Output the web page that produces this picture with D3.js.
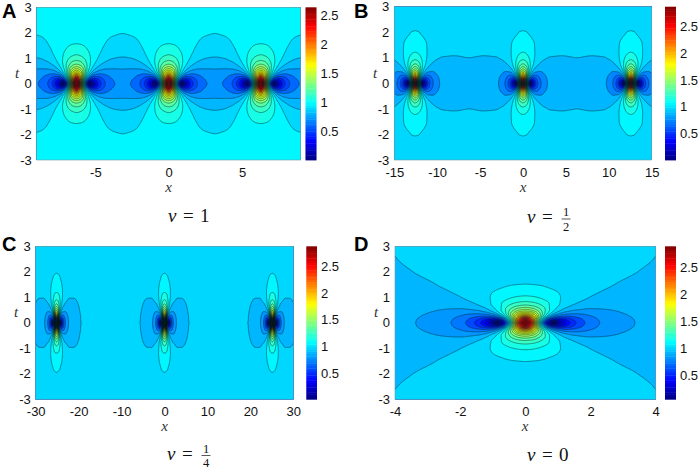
<!DOCTYPE html>
<html><head><meta charset="utf-8">
<script src="https://cdn.jsdelivr.net/npm/d3@7"></script>
<style>
html,body{margin:0;padding:0;background:#fff}
svg{display:block}
text{fill:#111}
</style></head><body>
<svg id="c" width="699" height="470"></svg>
<script>
// Knots of the estimated quadrant readings (folded by the mirror symmetry of the picture)
const yTicks = [-3,-2,-1,0,1,2,3];
const cbTicks = [.5,1,1.5,2,2.5];

const xKnotsA = [0,.25,.5,.75,.95,1.2,1.6,2,2.5,3.1416];
const tKnotsA = [0,.125,.25,.375,.5,.75,.875,1,1.25,1.5,1.75,2,3];
const fieldA = [
 [2.73,2.1,1.08,.366,.01,.27,.512,.632,.705,.732],
 [2.55,2.05,1.18,.577,.364,.386,.543,.645,.711,.736],
 [2.19,1.89,1.32,.861,.66,.579,.617,.678,.727,.747],
 [1.855,1.70,1.35,1.03,.856,.741,.703,.723,.751,.765],
 [1.62,1.535,1.33,1.11,.973,.859,.784,.772,.78,.786],
 [1.334,1.304,1.228,1.13,1.054,.975,.894,.855,.837,.833],
 [1.254,1.236,1.186,1.118,1.062,1.0,.928,.887,.864,.856],
 [1.196,1.18,1.15,1.103,1.06,1.014,.953,.913,.888,.879],
 [1.117,1.111,1.094,1.07,1.048,1.02,.979,.948,.925,.915],
 [1.07,1.067,1.06,1.046,1.033,1.016,.989,.968,.949,.941],
 [1.043,1.042,1.038,1.029,1.02,1.011,.994,.979,.966,.96],
 [1.03,1.03,1.027,1.02,1.015,1.01,.999,.989,.98,.975],
 [1.005,1.005,1.005,1.004,1.003,1.002,1,.998,.996,.995]];
const xTicksA = [-5,0,5];

const xKnotsB = [0,.25,.5,.7,.88,1.1,1.5,2,2.5,3.2,4.5,6.283];
const tKnotsB = [0,.125,.25,.375,.5,.75,.875,1,1.25,1.5,1.75,2,3];
const fieldB = [
 [2.9,2.13,1.02,.374,0,.28,.57,.738,.82,.878,.922,.936],
 [2.67,2.07,1.18,.66,.447,.445,.61,.75,.825,.881,.922,.936],
 [2.21,1.91,1.36,.985,.785,.688,.703,.782,.838,.886,.924,.937],
 [1.857,1.706,1.40,1.152,.986,.87,.804,.823,.858,.893,.927,.939],
 [1.614,1.536,1.364,1.207,1.085,.982,.887,.867,.88,.903,.93,.94],
 [1.34,1.313,1.255,1.19,1.13,1.07,.989,.939,.925,.926,.938,.945],
 [1.26,1.245,1.21,1.165,1.125,1.08,1.012,.963,.943,.936,.942,.947],
 [1.204,1.194,1.169,1.14,1.113,1.08,1.026,.98,.958,.947,.947,.95],
 [1.133,1.128,1.116,1.102,1.088,1.069,1.035,1.001,.979,.963,.956,.956],
 [1.091,1.09,1.085,1.079,1.067,1.06,1.035,1.011,.993,.976,.964,.962],
 [1.064,1.063,1.06,1.055,1.05,1.044,1.03,1.013,.999,.984,.972,.967],
 [1.048,1.047,1.045,1.04,1.037,1.033,1.025,1.012,1,.99,.978,.973],
 [1.008,1.008,1.007,1.007,1.006,1.006,1.004,1,.998,.996,.992,.99]];
const xTicksB = [-15,-10,-5,0,5,10,15];

const xKnotsC = [0,.25,.5,.7,.87,1.1,1.5,2,3,4,6,9,12.566];
const tKnotsC = [0,.125,.25,.375,.5,.75,1,1.25,1.5,1.75,2,3];
const fieldC = [
 [2.986,2.19,1.0,.359,0,.307,.59,.758,.886,.933,.966,.981,.984],
 [2.71,2.13,1.18,.668,.467,.467,.634,.771,.888,.933,.967,.981,.984],
 [2.23,1.94,1.37,1.005,.814,.709,.726,.802,.895,.936,.967,.981,.984],
 [1.86,1.72,1.41,1.17,1.015,.89,.826,.845,.905,.939,.968,.981,.984],
 [1.61,1.54,1.37,1.22,1.11,1.0,.908,.888,.918,.943,.969,.981,.984],
 [1.344,1.32,1.26,1.20,1.15,1.085,1.005,.958,.944,.954,.971,.982,.985],
 [1.21,1.205,1.19,1.153,1.127,1.093,1.041,.998,.966,.965,.974,.984,.985],
 [1.141,1.139,1.13,1.115,1.1,1.08,1.05,1.017,.984,.975,.978,.985,.987],
 [1.099,1.097,1.093,1.087,1.077,1.065,1.047,1.024,.995,.984,.981,.987,.988],
 [1.072,1.071,1.069,1.065,1.059,1.052,1.041,1.026,1.001,.99,.983,.987,.988],
 [1.056,1.055,1.053,1.05,1.048,1.042,1.034,1.024,1.006,.995,.987,.989,.99],
 [1.012,1.012,1.012,1.011,1.011,1.01,1.008,1.006,1.002,.998,.995,.993,.993]];
const xTicksC = [-30,-20,-10,0,10,20,30];

const xKnotsD = [0,.2,.4,.6,.75,.87,1,1.25,1.5,2,2.5,3,4];
const tKnotsD = [0,.125,.25,.375,.5,.75,1,1.5,2,2.5,3];
const fieldD = [
 [3,2.448,1.439,.639,.231,.007,.2,.448,.6,.765,.846,.892,.938],
 [2.72,2.32,1.538,.889,.589,.474,.449,.538,.64,.777,.851,.894,.939],
 [2.236,2.04,1.6,1.174,.943,.822,.745,.707,.733,.809,.865,.901,.941],
 [1.86,1.768,1.543,1.288,1.124,1.023,.941,.857,.833,.851,.884,.911,.945],
 [1.612,1.567,1.448,1.299,1.191,1.116,1.048,.96,.915,.894,.907,.923,.949],
 [1.342,1.327,1.289,1.234,1.189,1.153,1.116,1.055,1.011,.964,.95,.95,.96],
 [1.213,1.207,1.192,1.169,1.148,1.131,1.112,1.077,1.046,1.004,.982,.973,.971],
 [1.103,1.101,1.098,1.092,1.086,1.082,1.076,1.064,1.052,1.03,1.012,1.0007,.9894],
 [1.06,1.0595,1.058,1.056,1.054,1.052,1.05,1.0453,1.04,1.0294,1.0196,1.0113,1.0002],
 [1.039,1.0386,1.0382,1.037,1.036,1.0356,1.0346,1.032,1.03,1.0245,1.019,1.0138,1.0054],
 [1.027,1.027,1.0269,1.0264,1.026,1.0256,1.025,1.024,1.0227,1.0197,1.0165,1.0132,1.0074]];
const xTicksD = [-4,-2,0,2,4];

// Contour level ranges [lowest, highest], count of steps, colour bar limits
const levelRangeA = [.015,2.63], levelRangeB = [0,2.85], levelRangeC = [.005,2.88], levelRangeD = [.06,2.898];
const levelSteps = 30;
const barRangeA = [.015,2.63], barRangeB = [0,2.87], barRangeC = [.005,2.88], barRangeD = [.055,2.9];
const periodA = 6.2832, periodB = 12.566, periodC = 25.133;

const panels = [
 {letter:"A",lx:2,ly:18,xs:xKnotsA,ts:tKnotsA,z:fieldA,period:periodA,xd:[-9,9],xt:xTicksA,lev:levelRangeA,bar:barRangeA,
  box:[36.7,7.3,300.7,160],cb:[305.5,316.5],tl:[17,78],xl:[168.7,192],cap:[168,222],capText:["1"]},
 {letter:"B",lx:354,ly:18,xs:xKnotsB,ts:tKnotsB,z:fieldB,period:periodB,xd:[-15,15],xt:xTicksB,lev:levelRangeB,bar:barRangeB,
  box:[394.3,6.7,651.7,160],cb:[665,676],tl:[375,78],xl:[523,192],cap:[527,223],capText:["1","2"]},
 {letter:"C",lx:2,ly:251,xs:xKnotsC,ts:tKnotsC,z:fieldC,period:periodC,xd:[-30,30],xt:xTicksC,lev:levelRangeC,bar:barRangeC,
  box:[35.7,246.3,293.3,399.3],cb:[306.3,317],tl:[16,317],xl:[164.5,431],cap:[167,459.5],capText:["1","4"]},
 {letter:"D",lx:354,ly:251,xs:xKnotsD,ts:tKnotsD,z:fieldD,period:null,xd:[-4,4],xt:xTicksD,lev:levelRangeD,bar:barRangeD,
  box:[395,246.3,655.7,399.3],cb:[665,676],tl:[376,317],xl:[525,431],cap:[527,461],capText:["0"]}
];

const SANS = "'Liberation Sans',Arial,sans-serif", SERIF = "'Liberation Serif','DejaVu Serif',serif";

function jet(p){
  const q = (Math.min(63,Math.max(0,Math.floor(p*64)))+.5)/64;
  const ch = v => Math.round(255*Math.max(0,Math.min(1,1.5-Math.abs(4*q-v))));
  return `rgb(${ch(3)},${ch(2)},${ch(1)})`;
}
// shape-preserving slopes
function slopes(xs,ys,evenEnd){
  const n=xs.length, d=new Array(n).fill(0);
  for(let i=1;i<n-1;i++){
    const h0=xs[i]-xs[i-1],h1=xs[i+1]-xs[i],s0=(ys[i]-ys[i-1])/h0,s1=(ys[i+1]-ys[i])/h1;
    if(s0*s1<=0){d[i]=0;continue;}
    const w1=2*h1+h0,w2=h1+2*h0;
    d[i]=(w1+w2)/(w1/s0+w2/s1);
  }
  d[0]=0;
  d[n-1]=evenEnd?0:(ys[n-1]-ys[n-2])/(xs[n-1]-xs[n-2]);
  return d;
}
function evalH(xs,ys,d,x){
  const n=xs.length;
  if(x>=xs[n-1])return ys[n-1]+(x-xs[n-1])*d[n-1];
  let i=d3.bisectRight(xs,x)-1; if(i<0)i=0;
  const h=xs[i+1]-xs[i],u=(x-xs[i])/h,u2=u*u,u3=u2*u;
  return (2*u3-3*u2+1)*ys[i]+(u3-2*u2+u)*h*d[i]+(-2*u3+3*u2)*ys[i+1]+(u3-u2)*h*d[i+1];
}

const svg=d3.select("#c");
const defs=svg.append("defs");
panels.forEach((p,pi)=>{
  const [x0,y0,x1,y1]=p.box;
  const xS=d3.scaleLinear().domain(p.xd).range([x0,x1]);
  const yS=d3.scaleLinear().domain([-3,3]).range([y1,y0]);
  const levels=d3.range(levelSteps+1).map(k=>p.lev[0]+(p.lev[1]-p.lev[0])*k/levelSteps);
  const color=v=>jet((v-p.bar[0])/(p.bar[1]-p.bar[0]));
  const g=svg.append("g");
  defs.append("clipPath").attr("id","clip"+pi).append("rect").attr("x",x0).attr("y",y0).attr("width",x1-x0).attr("height",y1-y0);
  const plot=g.append("g").attr("clip-path",`url(#clip${pi})`);

  // resample the readings
  const sc=2,pad=3;
  const W=Math.ceil((x1-x0)*sc)+2*pad,H=Math.ceil((y1-y0)*sc)+2*pad;
  const values=new Float64Array(W*H);
  const nc=p.xs.length;
  const colSlopes=d3.range(nc).map(c=>{
    const col=p.z.map(r=>r[c]);
    return {col,d:slopes(p.ts,col,false)};
  });
  const fold=x=>{
    let a=Math.abs(x);
    if(p.period){a=a%p.period;if(a>p.period/2)a=p.period-a;}
    return a;
  };
  const xf=d3.range(W).map(i=>fold(xS.invert(x0+(i+.5-pad)/sc)));
  for(let j=0;j<H;j++){
    const t=Math.abs(yS.invert(y0+(j+.5-pad)/sc));
    const tt=Math.min(t,p.ts[p.ts.length-1]);
    const ys=colSlopes.map(c=>evalH(p.ts,c.col,c.d,tt));
    const d=slopes(p.xs,ys,!!p.period);
    for(let i=0;i<W;i++)values[j*W+i]=evalH(p.xs,ys,d,xf[i]);
  }
  const contours=d3.contours().size([W,H]);
  const path=d3.geoPath(d3.geoTransform({point(a,b){this.stream.point(x0+(a-pad)/sc,y0+(b-pad)/sc);}}));

  plot.append("rect").attr("x",x0).attr("y",y0).attr("width",x1-x0).attr("height",y1-y0).attr("fill",color(p.lev[0]));
  const shapes=levels.map(L=>({L,d:path(contours.contour(values,L))})).filter(s=>s.d);
  plot.selectAll("path.f").data(shapes).join("path").attr("class","f").attr("d",s=>s.d).attr("fill",s=>color(s.L)).attr("stroke",s=>color(s.L)).attr("stroke-width",.3);
  plot.selectAll("path.l").data(shapes).join("path").attr("class","l").attr("d",s=>s.d).attr("fill","none").attr("stroke","#04242c").attr("stroke-opacity",.68).attr("stroke-width",.7);

  g.append("rect").attr("x",x0).attr("y",y0).attr("width",x1-x0).attr("height",y1-y0).attr("fill","none").attr("stroke","#6f9aa3").attr("stroke-width",.6);

  // axes
  const axX=g.append("g").attr("transform",`translate(0,${y1})`).call(d3.axisBottom(xS).tickValues(p.xt).tickSize(0).tickPadding(7.5).tickFormat(d=>String(d)));
  const axY=g.append("g").attr("transform",`translate(${x0},0)`).call(d3.axisLeft(yS).tickValues(yTicks).tickSize(0).tickPadding(5).tickFormat(d=>String(d)));
  // colour bar
  const [c0,c1]=p.cb;
  const cS=d3.scaleLinear().domain(p.bar).range([y1,y0]);
  const steps=d3.range(64);
  g.append("g").selectAll("rect").data(steps).join("rect")
    .attr("x",c0).attr("width",c1-c0)
    .attr("y",i=>cS(p.bar[0]+(p.bar[1]-p.bar[0])*(i+1)/64))
    .attr("height",i=>cS(p.bar[0]+(p.bar[1]-p.bar[0])*i/64)-cS(p.bar[0]+(p.bar[1]-p.bar[0])*(i+1)/64)+.4)
    .attr("fill",i=>jet((i+.5)/64));
  const axC=g.append("g").attr("transform",`translate(${c1},0)`).call(d3.axisRight(cS).tickValues(cbTicks).tickSize(0).tickPadding(4).tickFormat(d=>String(d)));
  [axX,axY,axC].forEach(a=>{a.select(".domain").remove();a.selectAll("text").attr("font-family",SANS).attr("font-size",13).attr("fill","#111");});

  // labels
  g.append("text").attr("x",p.tl[0]).attr("y",p.tl[1]).attr("text-anchor","middle").attr("font-family",SERIF).attr("font-style","italic").attr("font-size",15).style("fill","#333").text("t");
  g.append("text").attr("x",p.xl[0]).attr("y",p.xl[1]).attr("text-anchor","middle").attr("font-family",SERIF).attr("font-style","italic").attr("font-size",15).style("fill","#333").text("x");
  g.append("text").attr("x",p.lx).attr("y",p.ly).attr("font-family",SANS).attr("font-weight","bold").attr("font-size",20).style("fill","#000").text(p.letter);

  // caption
  const cap=g.append("g").attr("font-family",SERIF).attr("font-size",19);
  const [cx,cy]=p.cap;
  cap.append("text").attr("x",cx).attr("y",cy).attr("font-style","italic").text("ν");
  cap.append("text").attr("x",cx+15).attr("y",cy).text("=");
  if(p.capText.length===1){
    cap.append("text").attr("x",cx+32).attr("y",cy).text(p.capText[0]);
  }else{
    const fx=cx+39;
    cap.append("text").attr("x",fx).attr("y",cy-7).attr("text-anchor","middle").attr("font-size",12.5).text(p.capText[0]);
    cap.append("line").attr("x1",fx-4.5).attr("x2",fx+4.5).attr("y1",cy-4).attr("y2",cy-4).attr("stroke","#111").attr("stroke-width",.7);
    cap.append("text").attr("x",fx).attr("y",cy+7.5).attr("text-anchor","middle").attr("font-size",12.5).text(p.capText[1]);
  }
});
</script>
</body></html>
